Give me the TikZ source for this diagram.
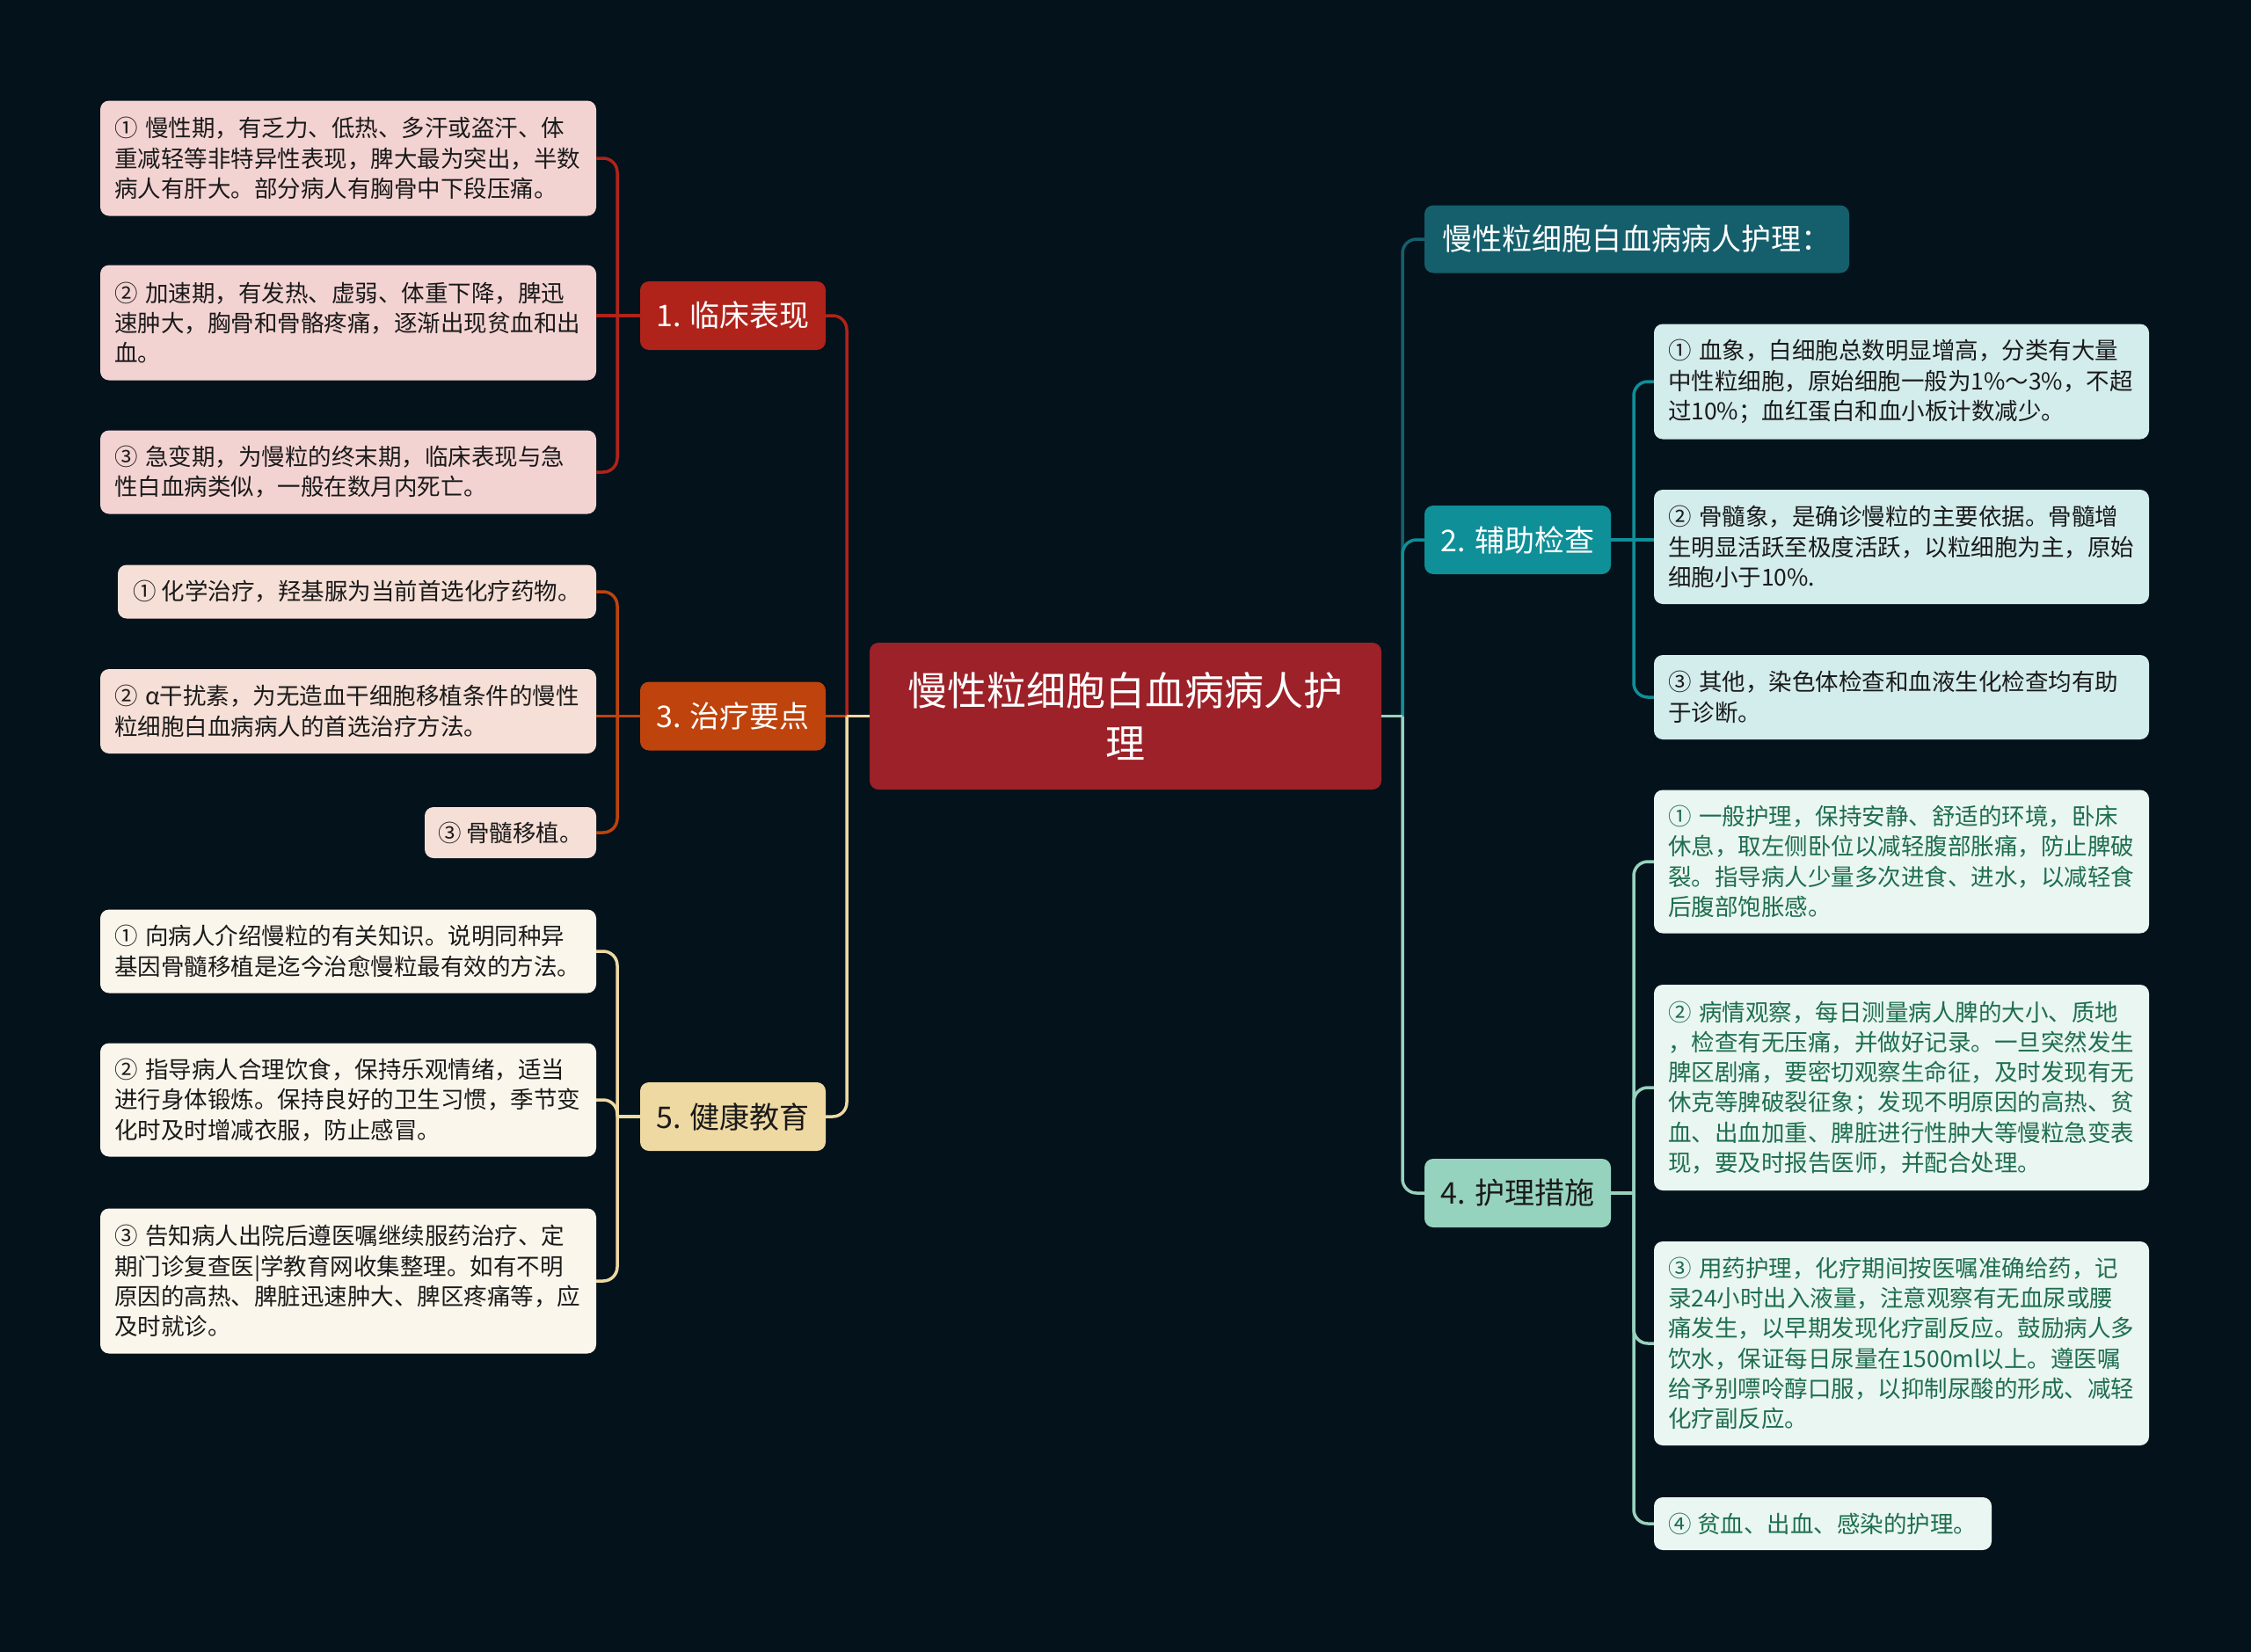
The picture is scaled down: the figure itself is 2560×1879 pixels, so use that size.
\documentclass[tikz,border=0pt]{standalone}
\usepackage{fontspec}
\setmainfont{Noto Sans CJK SC}
\definecolor{bgc}{HTML}{04121B}
\definecolor{cen}{HTML}{9C2128}
\definecolor{cA}{HTML}{B0231A}
\definecolor{lA}{HTML}{F3D3D2}
\definecolor{cB}{HTML}{BE430D}
\definecolor{lB}{HTML}{F6DFD6}
\definecolor{cC}{HTML}{EFD9A2}
\definecolor{lC}{HTML}{FBF6EC}
\definecolor{cT}{HTML}{155F6C}
\definecolor{cD}{HTML}{0F8F98}
\definecolor{lD}{HTML}{D3ECEC}
\definecolor{cE}{HTML}{96D3BE}
\definecolor{lE}{HTML}{EAF6F2}
\definecolor{txd}{HTML}{1A1A1A}
\definecolor{txg}{HTML}{1E6E4F}
\newcommand\leaffont{\fontsize{26.5pt}{34.3pt}\selectfont}
\newcommand\brfont{\fontsize{34pt}{40pt}\selectfont}
\newcommand\cenfont{\fontsize{45pt}{60pt}\selectfont}
\tikzset{
  leaf/.style={rounded corners=10pt, inner xsep=16pt, inner ysep=0pt, align=left, font=\leaffont, text=txd},
  shortleaf/.style={rounded corners=10pt, inner xsep=0pt, inner ysep=0pt, font=\leaffont, text=txd},
  brnode/.style={rounded corners=10pt, inner sep=0pt, align=center, font=\brfont, minimum height=78pt},
  conn/.style={line width=3.5pt, rounded corners=16pt},
  straightconn/.style={line width=3.5pt},
}
\begin{document}
\begin{tikzpicture}[x=1pt,y=-1pt]
\fill[bgc] (0,0) rectangle (2560,1879);
\useasboundingbox (0,0) rectangle (2560,1879);

% central
\node[rounded corners=10pt, fill=cen, text=white, font=\cenfont, align=center, text width=540pt, minimum width=582pt, minimum height=167pt, inner sep=0pt] (c) at (1280,814.5) {慢性粒细胞白血病病人护\\理};

% left branches
\node[brnode, fill=cA, text=white, minimum width=211pt] (b1) at (833.5,359) {1. 临床表现};
\node[brnode, fill=cB, text=white, minimum width=211pt] (b3) at (833.5,814.5) {3. 治疗要点};
\node[brnode, fill=cC, text=txd, minimum width=211pt] (b5) at (833.5,1270) {5. 健康教育};

% right branches
\node[brnode, fill=cT, text=white, minimum width=483pt, minimum height=77pt] (t) at (1861.5,272) {慢性粒细胞白血病病人护理：};
\node[brnode, fill=cD, text=white, minimum width=212pt] (b2) at (1726,614) {2. 辅助检查};
\node[brnode, fill=cE, text=txd, minimum width=212pt] (b4) at (1726,1357) {4. 护理措施};

% leaves of 1
\node[leaf, fill=lA, text width=532pt, minimum height=131pt] (l1a) at (396,180) {① 慢性期，有乏力、低热、多汗或盗汗、体\\重减轻等非特异性表现，脾大最为突出，半数\\病人有肝大。部分病人有胸骨中下段压痛。};
\node[leaf, fill=lA, text width=532pt, minimum height=131pt] (l1b) at (396,367) {② 加速期，有发热、虚弱、体重下降，脾迅\\速肿大，胸骨和骨骼疼痛，逐渐出现贫血和出\\血。};
\node[leaf, fill=lA, text width=532pt, minimum height=95pt] (l1c) at (396,537) {③ 急变期，为慢粒的终末期，临床表现与急\\性白血病类似，一般在数月内死亡。};

% leaves of 3
\node[shortleaf, fill=lB, minimum width=544pt, minimum height=61pt] (l3a) at (406,673) {①~化学治疗，羟基脲为当前首选化疗药物。};
\node[leaf, fill=lB, text width=532pt, minimum height=96pt] (l3b) at (396,809) {② α干扰素，为无造血干细胞移植条件的慢性\\粒细胞白血病病人的首选治疗方法。};
\node[shortleaf, fill=lB, minimum width=195pt, minimum height=58pt] (l3c) at (580.5,947) {③~骨髓移植。};

% leaves of 5
\node[leaf, fill=lC, text width=532pt, minimum height=95pt] (l5a) at (396,1082) {① 向病人介绍慢粒的有关知识。说明同种异\\基因骨髓移植是迄今治愈慢粒最有效的方法。};
\node[leaf, fill=lC, text width=532pt, minimum height=129pt] (l5b) at (396,1251) {② 指导病人合理饮食，保持乐观情绪，适当\\进行身体锻炼。保持良好的卫生习惯，季节变\\化时及时增减衣服，防止感冒。};
\node[leaf, fill=lC, text width=532pt, minimum height=165pt] (l5c) at (396,1457) {③ 告知病人出院后遵医嘱继续服药治疗、定\\期门诊复查医|学教育网收集整理。如有不明\\原因的高热、脾脏迅速肿大、脾区疼痛等，应\\及时就诊。};

% leaves of 2
\node[leaf, fill=lD, text width=531pt, minimum height=131pt] (l2a) at (2162.5,434) {① 血象，白细胞总数明显增高，分类有大量\\中性粒细胞，原始细胞一般为1\%～3\%，不超\\过10\%；血红蛋白和血小板计数减少。};
\node[leaf, fill=lD, text width=531pt, minimum height=130pt] (l2b) at (2162.5,622) {② 骨髓象，是确诊慢粒的主要依据。骨髓增\\生明显活跃至极度活跃，以粒细胞为主，原始\\细胞小于10\%.};
\node[leaf, fill=lD, text width=531pt, minimum height=96pt] (l2c) at (2162.5,793) {③ 其他，染色体检查和血液生化检查均有助\\于诊断。};

% leaves of 4
\node[leaf, fill=lE, text=txg, text width=531pt, minimum height=163pt] (l4a) at (2162.5,980) {① 一般护理，保持安静、舒适的环境，卧床\\休息，取左侧卧位以减轻腹部胀痛，防止脾破\\裂。指导病人少量多次进食、进水，以减轻食\\后腹部饱胀感。};
\node[leaf, fill=lE, text=txg, text width=531pt, minimum height=234pt] (l4b) at (2162.5,1237) {② 病情观察，每日测量病人脾的大小、质地\\，检查有无压痛，并做好记录。一旦突然发生\\脾区剧痛，要密切观察生命征，及时发现有无\\休克等脾破裂征象；发现不明原因的高热、贫\\血、出血加重、脾脏进行性肿大等慢粒急变表\\现，要及时报告医师，并配合处理。};
\node[leaf, fill=lE, text=txg, text width=531pt, minimum height=232pt] (l4c) at (2162.5,1528) {③ 用药护理，化疗期间按医嘱准确给药，记\\录24小时出入液量，注意观察有无血尿或腰\\痛发生，以早期发现化疗副反应。鼓励病人多\\饮水，保证每日尿量在1500ml以上。遵医嘱\\给予别嘌呤醇口服，以抑制尿酸的形成、减轻\\化疗副反应。};
\node[shortleaf, fill=lE, text=txg, minimum width=384pt, minimum height=60pt] (l4d) at (2073,1733) {④~贫血、出血、感染的护理。};

% junction coordinates
\coordinate (jl) at (963,814.5);
\coordinate (jr) at (1595,814.5);
\coordinate (k1) at (702,359);
\coordinate (k3) at (702,814.5);
\coordinate (k5) at (702,1270);
\coordinate (k2) at (1858,614);
\coordinate (k4) at (1858,1357);

% central to branches (left)
\draw[conn, cA] (jl) |- (b1.east);
\draw[straightconn, cB] (jl) -- (b3.east);
\draw[conn, cC] (jl) |- (b5.east);
\draw[straightconn, cC] (c.west) -- (jl);

% central to branches (right)
\draw[conn, cT] (jr) |- (t.west);
\draw[conn, cD] (jr) |- (b2.west);
\draw[conn, cE] (jr) |- (b4.west);
\draw[straightconn, cE] (c.east) -- (jr);

% branch 1 to leaves
\draw[straightconn, cA] (b1.west) -- (k1);
\draw[conn, cA] (k1) |- (l1a.east);
\draw[straightconn, cA] (k1) -- (k1 -| l1b.east);
\draw[conn, cA] (k1) |- (l1c.east);

% branch 3 to leaves
\draw[straightconn, cB] (b3.west) -- (k3);
\draw[conn, cB] (k3) |- (l3a.east);
\draw[straightconn, cB] (k3) -- (k3 -| l3b.east);
\draw[conn, cB] (k3) |- (l3c.east);

% branch 5 to leaves
\draw[straightconn, cC] (b5.west) -- (k5);
\draw[conn, cC] (k5) |- (l5a.east);
\draw[conn, cC] (k5) |- (l5b.east);
\draw[conn, cC] (k5) |- (l5c.east);

% branch 2 to leaves
\draw[straightconn, cD] (b2.east) -- (k2);
\draw[conn, cD] (k2) |- (l2a.west);
\draw[straightconn, cD] (k2) -- (k2 -| l2b.west);
\draw[conn, cD] (k2) |- (l2c.west);

% branch 4 to leaves
\draw[straightconn, cE] (b4.east) -- (k4);
\draw[conn, cE] (k4) |- (l4a.west);
\draw[conn, cE] (k4) |- (l4b.west);
\draw[conn, cE] (k4) |- (l4c.west);
\draw[conn, cE] (k4) |- (l4d.west);
\end{tikzpicture}
\end{document}
